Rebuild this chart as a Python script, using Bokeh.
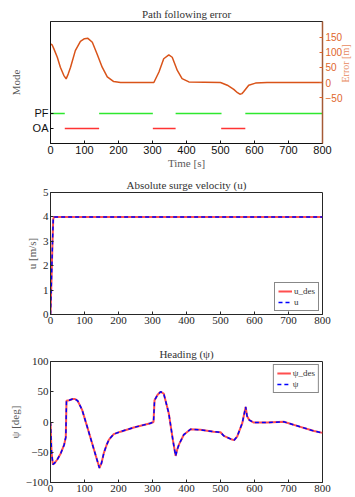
import math
from bokeh.plotting import figure
from bokeh.models import Range1d, LinearAxis, FixedTicker, Legend, LegendItem
from bokeh.layouts import column
from bokeh.embed import file_html
from bokeh.resources import INLINE

# ---------------- data ----------------
x_ticks = [0, 100, 200, 300, 400, 500, 600, 700, 800]

# Path following error [m]
t_err = [0, 5, 10, 20, 29, 39, 46, 52, 59, 73, 88, 100, 110, 123, 137, 152, 167, 186, 206,
         300, 304, 319, 333, 348, 358, 373, 387, 407, 500, 520, 539, 550, 557, 563, 568,
         583, 603, 637, 800]
err = [128, 125, 112, 84, 51, 24, 12, 28, 51, 106, 137, 146, 147, 134, 95, 51, 19, 3, 0,
       0, 0, 35, 79, 92, 84, 40, 13, 2, 0, -9, -23, -34, -39, -37, -31,
       -9, -2, 0, 0]
err_ticks = [-50, 0, 50, 100, 150]

# Mode segments
mode_labels = {1: "OA", 2: "PF"}
pf_start = [0, 143, 368, 573]
pf_end = [42, 301, 503, 800]
oa_start = [42, 301, 502]
oa_end = [143, 368, 573]
PF_LEVEL = 2
OA_LEVEL = 1

# Surge velocity [m/s]
t_u = [0, 2, 4, 6, 8, 10, 800]
u_des = [0, 1.0, 2.0, 3.0, 3.9, 4.0, 4.0]
u_act = [0, 1.0, 2.0, 3.0, 3.9, 4.0, 4.0]
u_ticks = [0, 1, 2, 3, 4, 5]

# Heading [deg]
t_psi = [0, 3, 7, 12, 20, 30, 40, 45, 47, 55, 65, 72, 80, 93, 108, 128, 144, 150, 157, 165,
         172, 186, 206, 245, 294, 303, 306, 315, 324, 333, 348, 360, 368, 373, 378, 392, 412,
         441, 480, 500, 510, 534, 540, 549, 564, 574, 578, 585, 598, 637, 686, 735, 775, 800]
psi_des = [0, -50, -70, -68, -62, -52, -38, -25, 35, 36, 38, 38, 35, 20, -8, -46, -76, -68,
           -51, -38, -29, -20, -16, -9, -2, 0, 36, 45, 50, 47, 14, -30, -56, -45, -37, -21,
           -12, -13, -16, -17, -23, -29, -30, -24, -2, 25, 10, 3, -1, -1, 0.5, -8, -15, -18]
psi_act = list(psi_des)
psi_ticks = [-100, -50, 0, 50, 100]

# ---------------- styling ----------------
SERIF = "Liberation Serif"
SANS = "Liberation Sans"
AX = "#262626"
LBL = "#5a5a5a"
ERR_C = "#D95319"


def base_style(p):
    p.xgrid.visible = False
    p.ygrid.visible = False
    p.outline_line_color = AX
    p.outline_line_width = 1
    p.title.text_font = SERIF
    p.title.text_font_size = "11px"
    p.title.text_font_style = "normal"
    p.title.text_color = "#333333"
    p.title.align = "center"
    p.title.standoff = 3


def axis_style(ax, font, color=AX, lblcolor=LBL):
    ax.axis_line_color = color
    ax.major_tick_line_color = color
    ax.major_tick_in = 3
    ax.major_tick_out = 0
    ax.minor_tick_line_color = None
    ax.major_label_text_font = font
    ax.major_label_text_font_size = "11px"
    ax.major_label_text_color = color
    ax.major_label_standoff = 2
    ax.axis_label_text_font = SERIF
    ax.axis_label_text_font_size = "11px"
    ax.axis_label_text_font_style = "normal"
    ax.axis_label_text_color = lblcolor
    ax.axis_label_standoff = 2


# ---------------- panel 1 ----------------
p1 = figure(frame_width=272, frame_height=122, x_range=Range1d(0, 800), y_range=Range1d(0, 8.13),
            output_backend="svg", toolbar_location=None,
            min_border_left=50, min_border_right=32, min_border_top=21, min_border_bottom=27,
            title="Path following error")
base_style(p1)
p1.xaxis.ticker = FixedTicker(ticks=x_ticks)
p1.xaxis.axis_label = "Time [s]"
p1.yaxis.ticker = FixedTicker(ticks=list(mode_labels.keys()))
p1.yaxis.major_label_overrides = mode_labels
p1.yaxis.axis_label = "Mode"
for ax in p1.axis:
    axis_style(ax, SANS, color="#111111")
p1.xaxis.axis_label_standoff = 0
p1.yaxis.axis_label_standoff = 8

p1.extra_y_ranges = {"err": Range1d(-203, 203)}
eax = LinearAxis(y_range_name="err", ticker=FixedTicker(ticks=err_ticks), axis_label="Error [m]")
axis_style(eax, SANS, color="#a65a35", lblcolor="#e8895e")
eax.major_label_text_color = "#e0662a"
eax.major_label_text_font_size = "10px"
eax.major_tick_line_color = "#e0662a"
eax.axis_line_width = 1.5
eax.major_label_standoff = 3
eax.axis_label_standoff = 0
eax.axis_label_text_font_size = "10px"
if "axis_label_orientation" in eax.properties():
    eax.axis_label_orientation = math.pi / 2
p1.add_layout(eax, "right")

p1.segment(x0=pf_start, x1=pf_end, y0=[PF_LEVEL] * len(pf_start), y1=[PF_LEVEL] * len(pf_start),
           line_color="#2ee82e", line_width=1.3)
p1.segment(x0=oa_start, x1=oa_end, y0=[OA_LEVEL] * len(oa_start), y1=[OA_LEVEL] * len(oa_start),
           line_color="#ff3333", line_width=1.3)
p1.line(t_err, err, y_range_name="err", line_color=ERR_C, line_width=1.5)

# ---------------- panel 2 ----------------
p2 = figure(frame_width=272, frame_height=122, x_range=Range1d(0, 800), y_range=Range1d(0, 5),
            output_backend="svg", toolbar_location=None,
            min_border_left=50, min_border_right=25, min_border_top=21, min_border_bottom=17,
            title="Absolute surge velocity (u)")
base_style(p2)
p2.xaxis.ticker = FixedTicker(ticks=x_ticks)
p2.yaxis.ticker = FixedTicker(ticks=u_ticks)
p2.yaxis.axis_label = "u [m/s]"
for ax in p2.axis:
    axis_style(ax, SERIF)

r_ud = p2.line(t_u, u_des, line_color="#ff3030", line_width=2, line_alpha=0.85)
r_u = p2.line(t_u, u_act, line_color="#0000ff", line_width=1.5, line_dash="4 3")
leg2 = Legend(items=[LegendItem(label="u_des", renderers=[r_ud]),
                     LegendItem(label="u", renderers=[r_u])],
              location="bottom_right")
p2.add_layout(leg2)

# ---------------- panel 3 ----------------
p3 = figure(frame_width=272, frame_height=121, x_range=Range1d(0, 800), y_range=Range1d(-100, 100),
            output_backend="svg", toolbar_location=None,
            min_border_left=50, min_border_right=25, min_border_top=30, min_border_bottom=15,
            title="Heading (ψ)")
base_style(p3)
p3.xaxis.ticker = FixedTicker(ticks=x_ticks)
p3.yaxis.ticker = FixedTicker(ticks=psi_ticks)
p3.yaxis.axis_label = "ψ [deg]"
for ax in p3.axis:
    axis_style(ax, SERIF)

r_pd = p3.line(t_psi, psi_des, line_color="#ff3030", line_width=2, line_alpha=0.85)
r_p = p3.line(t_psi, psi_act, line_color="#0000ff", line_width=1.5, line_dash="4 3")
leg3 = Legend(items=[LegendItem(label="ψ_des", renderers=[r_pd]),
                     LegendItem(label="ψ", renderers=[r_p])],
              location="top_right")
p3.add_layout(leg3)

for leg in (leg2, leg3):
    leg.label_text_font = SERIF
    leg.label_text_font_size = "9px"
    leg.label_text_color = "#333333"
    leg.glyph_width = 14
    leg.glyph_height = 8
    leg.label_height = 8
    leg.spacing = 1
    leg.padding = 3
    leg.margin = 3
    leg.label_standoff = 2
    leg.border_line_color = "#111111"
    leg.border_line_width = 1
    leg.background_fill_alpha = 1

layout = column(p1, p2, p3, spacing=0)
open("out.html", "w").write(file_html(layout, INLINE))
